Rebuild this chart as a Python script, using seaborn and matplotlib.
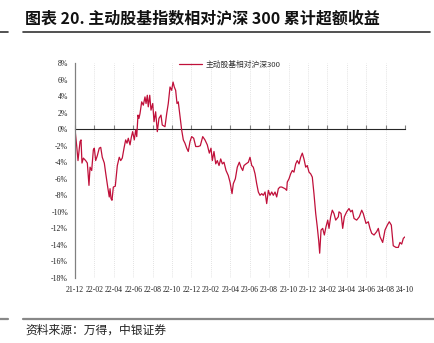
import matplotlib
matplotlib.use("Agg")
import matplotlib.pyplot as plt
import seaborn as sns
import pandas as pd
from matplotlib.lines import Line2D

# ---- data (months since 2021-12, cumulative excess return in %) ----
month_pos = [0.00, 0.18, 0.31, 0.41, 0.52, 0.62, 0.72, 0.86, 1.10, 1.27, 1.44, 1.55, 1.72, 1.89, 1.99,
             2.13, 2.30, 2.50, 2.65, 2.81, 3.02, 3.16, 3.37, 3.53, 3.61, 3.71, 3.81, 3.95, 4.15, 4.36,
             4.56, 4.71, 4.87, 5.05, 5.22, 5.36, 5.49, 5.67, 5.80, 5.94, 6.11, 6.25, 6.36, 6.49, 6.59,
             6.70, 6.87, 7.04, 7.21, 7.32, 7.45, 7.55, 7.70, 7.83, 8.01, 8.14, 8.31, 8.48, 8.65, 8.86,
             8.99, 9.27, 9.45, 9.61, 9.79, 9.96, 10.10, 10.23, 10.37, 10.51, 10.64, 10.82, 10.99, 11.16,
             11.33, 11.51, 11.67, 11.85, 12.02, 12.23, 12.44, 12.70, 12.91, 13.16, 13.39, 13.63, 13.84,
             14.01, 14.15, 14.32, 14.50, 14.66, 14.84, 15.01, 15.18, 15.35, 15.56, 15.79, 15.97, 16.18,
             16.31, 16.52, 16.72, 16.93, 17.10, 17.28, 17.41, 17.62, 17.86, 18.03, 18.21, 18.37, 18.55,
             18.72, 18.89, 19.06, 19.24, 19.40, 19.58, 19.75, 19.92, 20.09, 20.27, 20.43, 20.61, 20.78,
             20.95, 21.12, 21.30, 21.64, 21.81, 21.87, 22.05, 22.22, 22.39, 22.56, 22.74, 22.90, 23.08,
             23.25, 23.42, 23.59, 23.77, 23.93, 24.11, 24.28, 24.45, 24.62, 24.80, 24.96, 25.11, 25.21,
             25.35, 25.52, 25.69, 25.86, 26.04, 26.17, 26.34, 26.51, 26.68, 26.86, 27.13, 27.20, 27.41,
             27.58, 27.75, 27.99, 28.23, 28.41, 28.57, 28.75, 29.02, 29.29, 29.54, 29.70, 29.98, 30.22,
             30.39, 30.57, 30.81, 31.08, 31.25, 31.42, 31.70, 31.94, 32.18, 32.38, 32.59, 32.79, 33.07,
             33.31, 33.48, 33.66, 33.83, 34.03]
excess_pct = [0.0, -2.1, -3.8, -2.7, -1.5, -1.3, -4.1, -3.5, -3.8, -4.1, -6.8, -4.6, -5.0, -2.5, -2.3,
              -3.8, -3.2, -2.3, -2.2, -3.4, -4.1, -5.3, -7.0, -8.2, -7.2, -8.4, -8.6, -7.0, -6.9, -4.4,
              -3.4, -3.8, -3.5, -2.3, -1.3, -1.7, -1.1, -1.9, -1.0, -0.3, -1.3, -0.1, -0.9, 1.7, 1.3,
              1.9, 3.3, 2.9, 3.9, 3.1, 4.1, 2.7, 4.1, 2.3, 3.1, 0.9, 2.1, -0.3, 1.3, 1.7,
              0.5, 0.3, 1.9, 3.1, 5.1, 4.7, 5.7, 5.1, 4.7, 3.1, 3.3, 1.5, -0.1, -1.3,
              -1.7, -2.3, -2.7, -1.5, -0.9, -1.1, -2.1, -2.1, -2.0, -0.9, -1.3, -1.9, -2.9,
              -2.3, -3.8, -2.7, -4.2, -3.8, -4.4, -3.6, -4.2, -4.0, -5.0, -5.6, -6.4, -7.8,
              -6.6, -6.0, -4.6, -4.0, -4.6, -5.0, -4.4, -4.2, -4.0, -3.4, -4.4, -4.6, -5.4,
              -6.6, -7.6, -8.0, -7.8, -8.0, -7.6, -9.0, -7.4, -8.0, -7.6, -8.0, -7.6, -8.2,
              -7.2, -7.0, -7.0, -7.2, -7.4, -6.4, -6.0, -5.4, -5.0, -5.2, -4.2, -3.8, -4.2,
              -3.4, -2.9, -3.6, -4.6, -4.4, -5.2, -5.4, -5.8, -7.8, -10.2, -11.8, -13.5, -15.0,
              -12.2, -12.0, -12.8, -11.8, -11.0, -12.0, -10.6, -9.8, -10.2, -11.0, -10.6, -10.0, -10.2,
              -12.0, -10.6, -10.0, -9.6, -10.0, -9.8, -10.8, -11.0, -10.6, -9.8, -10.2, -11.4, -11.2,
              -12.0, -12.6, -12.8, -12.4, -12.0, -13.0, -13.7, -12.2, -11.6, -11.2, -11.6, -14.1, -14.3,
              -14.3, -13.7, -13.9, -13.2, -13.0]
tick_labels = ["21-12", "22-02", "22-04", "22-06", "22-08", "22-10", "22-12", "23-02", "23-04",
               "23-06", "23-08", "23-10", "23-12", "24-02", "24-04", "24-06", "24-08", "24-10"]
y_ticks = [-18, -16, -14, -12, -10, -8, -6, -4, -2, 0, 2, 4, 6, 8]
series_name = "主动股基相对沪深300"
title = "图表 20. 主动股基指数相对沪深 300 累计超额收益"
source = "资料来源：万得，中银证券"

sns.set_style("white")
plt.rcParams["font.family"] = ["Liberation Serif", "Noto Sans CJK SC", "DejaVu Sans"]

df = pd.DataFrame({"m": month_pos, "v": excess_pct})

W, H = 434, 343
fig = plt.figure(figsize=(W / 100, H / 100), dpi=100)
ax = fig.add_axes([75 / W, 1 - 278 / H, 330 / W, 215 / H])

line_color = "#C0103A"
sns.lineplot(data=df, x="m", y="v", ax=ax, color=line_color, linewidth=0.9, label=series_name)

ax.set_xlim(0, 34)
ax.set_ylim(-18, 8)
ax.set_xlabel("")
ax.set_ylabel("")

xt = list(range(0, 35, 2))
ax.set_xticks(xt)
ax.set_xticklabels(tick_labels, fontsize=5.6, family=["Liberation Serif"], color="#222222")
ax.set_yticks(y_ticks)
ax.set_yticklabels([f"{t}%" for t in y_ticks], fontsize=5.6, family=["Liberation Serif"], color="#222222")
ax.tick_params(axis="x", length=0, pad=6)
ax.tick_params(axis="y", length=3, width=0.8, color="#808080", pad=2)

for s in ["top", "right", "bottom"]:
    ax.spines[s].set_visible(False)
ax.spines["left"].set_color("#808080")
ax.spines["left"].set_linewidth(0.9)

# vertical dotted grid
ax.grid(False)
for x in xt[1:]:
    ax.axvline(x, color="#d9d9d9", linestyle=(0, (1, 1.5)), linewidth=0.6, zorder=0)

# zero axis line with tick marks
sec = ax.secondary_xaxis(18 / 26)
sec.set_xticks(xt)
sec.set_xticklabels([])
sec.tick_params(length=3, width=0.8, color="#808080")
sec.spines["bottom"].set_color("#808080")
sec.spines["bottom"].set_linewidth(1.0)

leg = ax.legend(loc="upper left", bbox_to_anchor=(0.305, 1.025), frameon=False,
                handlelength=3.0, handletextpad=0.5, borderaxespad=0,
                prop={"family": ["Noto Sans CJK SC"], "size": 5.6})
for t in leg.get_texts():
    t.set_color("#333333")

# title, rules, source
fig.text(25 / W, 1 - 18 / H, title, fontsize=11.5, fontweight="bold",
         family=["Noto Sans CJK SC", "DejaVu Sans"], va="center", ha="left", color="#111111")
fig.add_artist(Line2D([23 / W, 430 / W], [1 - 32 / H] * 2, color="#333333", linewidth=1.2))
fig.add_artist(Line2D([0, 8 / W], [1 - 32 / H] * 2, color="#333333", linewidth=1.2))
fig.add_artist(Line2D([23 / W, 1], [1 - 319 / H] * 2, color="#888888", linewidth=1.6))
fig.add_artist(Line2D([0, 8 / W], [1 - 319 / H] * 2, color="#888888", linewidth=1.6))
fig.text(25 / W, 1 - 330 / H, source, fontsize=8.5, family=["Noto Sans CJK SC"],
         va="center", ha="left", color="#222222")

fig.savefig("out.png", dpi=100)
